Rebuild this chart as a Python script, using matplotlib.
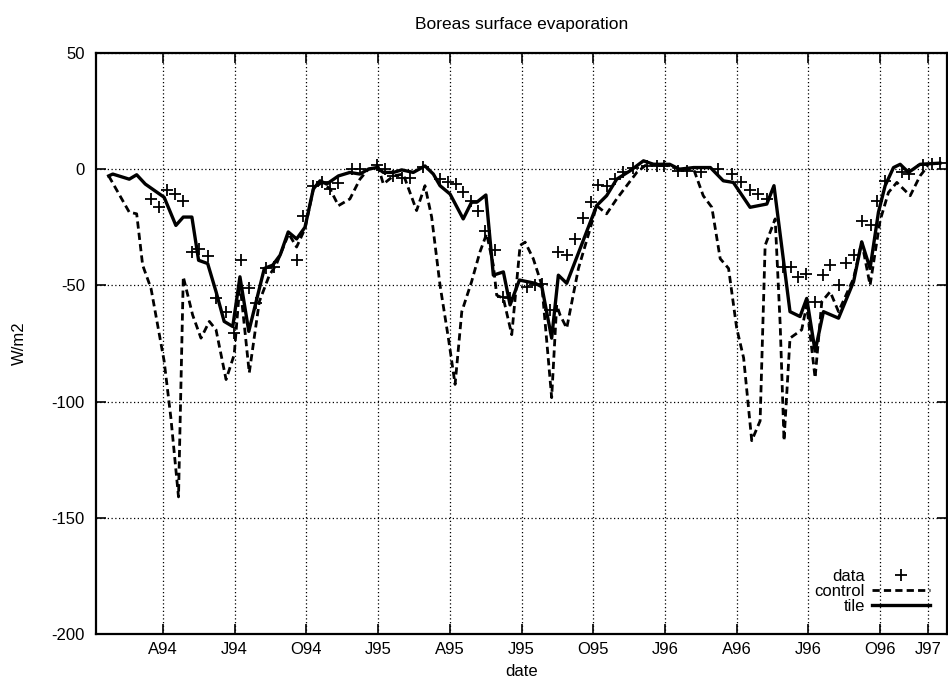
import matplotlib
matplotlib.use('Agg')
import matplotlib.pyplot as plt

plt.rcParams['font.family'] = ['Liberation Sans', 'DejaVu Sans']
plt.rcParams['axes.unicode_minus'] = False

# x in months since Jan 1994
tick_pos = [3, 6, 9, 12, 15, 18, 21, 24, 27, 30, 33, 35]
tick_labels = ['A94', 'J94', 'O94', 'J95', 'A95', 'J95', 'O95', 'J96', 'A96', 'J96', 'O96', 'J97']

data_x = [2.5, 2.82, 3.17, 3.52, 3.85, 4.21, 4.49, 4.87, 5.22, 5.64, 5.98, 6.26, 6.61, 6.89, 7.31, 7.66,
          8.59, 8.87, 9.29, 9.64, 9.99, 10.34, 10.89, 11.24, 11.94, 12.29, 12.64, 12.99, 13.33, 13.89,
          14.59, 14.94, 15.26, 15.54, 15.87, 16.19, 16.47, 16.89, 17.24, 17.52, 18.22, 18.57, 18.85,
          19.19, 19.54, 19.89, 20.24, 20.59, 20.89, 21.21, 21.56, 21.91, 22.26, 22.68, 23.24, 23.66,
          23.94, 24.55, 24.91, 25.5, 26.2, 26.8, 27.2, 27.56, 27.9, 28.26, 28.95, 29.26, 29.58, 29.9,
          30.28, 30.6, 30.91, 31.26, 31.58, 31.89, 32.23, 32.61, 32.86, 33.21, 33.91, 34.19, 34.81,
          35.16, 35.5]
data_y = [-12.8, -16.4, -8.8, -10.7, -13.5, -35.6, -34.2, -37.3, -55.6, -61.5, -70.5, -39.2, -51.3,
          -57.7, -42.7, -42.0, -39.2, -20, -7.1, -5.7, -8.5, -6, 0, 0, 1.7, 0, -2.9, -3.6, -3.6, 1.1,
          -4.3, -5.7, -6.4, -10, -13.5, -18.2, -26.4, -34.9, -54.8, -55.6, -50.6, -49.9, -49.6,
          -60.6, -35.6, -37, -29.9, -21.1, -14, -6.8, -7.1, -4.3, -1.4, 0.7, 1.4, 1.4,
          1.4, -0.7, -0.7, -1.4, 0, -2.1, -5.4, -8.8, -10.7, -12.8, -42, -42, -46.3, -44.9,
          -57.3, -45.6, -41.3, -49.9, -40.2, -36.8, -22.1, -24.2, -13.5, -5, -1.4, -2.1, 1.7,
          2.1, 2.6]

control_x = [0.73, 1.59, 1.9, 2.15, 2.5, 3.05, 3.33, 3.65, 3.85, 4.24, 4.59, 4.94, 5.22, 5.64, 5.98,
             6.22, 6.61, 7.03, 7.45, 7.73, 8.26, 8.59, 8.94, 9.29, 9.64, 9.99, 10.34, 10.82, 11.24,
             11.59, 12.0, 12.22, 12.64, 13.05, 13.61, 13.96, 14.24, 14.59, 14.94, 15.22, 15.5, 15.91,
             16.26, 16.54, 16.82, 16.96, 17.24, 17.59, 17.94, 18.15, 18.49, 18.85, 19.26, 19.47,
             19.61, 19.89, 20.38, 20.87, 21.14, 21.56, 21.98, 22.4, 22.82, 23.24, 23.94, 24.6, 25.2,
             25.6, 25.96, 26.31, 26.66, 27.0, 27.29, 27.63, 27.98, 28.19, 28.61, 28.82, 28.98, 29.23,
             29.72, 29.93, 30.28, 30.56, 30.91, 31.26, 31.89, 32.23, 32.58, 33.0, 33.35, 33.7, 34.26,
             34.67, 35.0]
control_y = [-2.9, -18.5, -19.2, -41.3, -51.3, -82.6, -106.9, -141, -46.3, -62.7, -72.7, -65.5, -69.1,
             -90.5, -79.8, -49.1, -87.6, -57, -45.6, -41.3, -27.8, -33.5, -25.6, -8.5, -5.7, -8.5,
             -15.7, -12.8, -4.3, 0, 1.1, -6.4, -2.9, -2.1, -17.8, -7.1, -20.6, -49.9, -72.7, -92.6,
             -61.3, -48.4, -35.6, -27.8, -41.3, -54.2, -55.6, -71.2, -32.8, -31.4, -38.5, -49.9,
             -98.3, -58.4, -62.7, -68.4, -42.7, -25.6, -15.7, -19.2, -12.8, -7.1, -1.4, 2.1, 2.1, 0,
             0, -11.4, -16.4, -38.5, -42.7, -68.4, -81.2, -116.8, -108.3, -32.8, -21.4, -67, -116.8,
             -72.7, -69.1, -58.4, -89.8, -57, -52.7, -61.3, -47, -31.3, -49.9, -22.1, -10, -5.7,
             -11.4, -2.9, 1.4]

tile_x = [0.73, 0.9, 1.59, 1.9, 2.26, 3.05, 3.54, 3.85, 4.21, 4.49, 4.87, 5.22, 5.56, 5.92, 6.22, 6.59,
          7.24, 7.59, 7.9, 8.24, 8.59, 8.94, 9.29, 9.57, 9.85, 10.34, 10.82, 11.24, 11.59, 11.94,
          12.22, 12.64, 12.99, 13.47, 13.96, 14.31, 14.59, 15.01, 15.56, 15.91, 16.13, 16.51, 16.82,
          17.24, 17.52, 17.91, 18.57, 18.85, 19.26, 19.54, 19.89, 20.45, 21.14, 21.56, 21.98, 22.54,
          23.1, 23.52, 24.2, 24.6, 25.2, 25.9, 26.44, 26.86, 27.56, 28.26, 28.56, 29.23, 29.65,
          29.93, 30.28, 30.63, 31.26, 31.89, 32.23, 32.58, 32.93, 33.21, 33.56, 33.84, 34.19, 34.67,
          35.5]
tile_y = [-2.9, -2.1, -4.3, -2.4, -6.4, -12.1, -24.2, -20.6, -20.6, -39.2, -40.6, -52.7, -65.5, -67.7,
          -46.3, -69.8, -42.7, -41.3, -37, -27, -30, -25, -8.5, -5, -6.4, -2.9, -1.4, -2.1, 0, 0.7,
          -1.4, -1.4, -0.3, -1.4, 1.4, -2.1, -7.1, -10.7, -21.4, -14.2, -14.2, -11.1, -45.6, -44.2,
          -58.4, -47.7, -49.1, -50.6, -72.7, -45.6, -49.1, -34.2, -15.7, -11.4, -4.3, -0.7, 3.6, 2.1,
          2.1, 0, 0.7, 0.7, -5, -5.7, -16.4, -15, -7.1, -61.3, -63.4, -55.6, -78.3, -61.3, -64.1,
          -48.4, -31.3, -42.7, -18.5, -7.1, 0.7, 2.1, -1.4, 2.1, 2.6]

fig = plt.figure(figsize=(9.48, 6.87), dpi=100)
ax = fig.add_axes([0.1013, 0.0771, 0.8977, 0.8458])

ax.plot(data_x, data_y, linestyle='none', marker='+', color='k', markersize=9,
        markeredgewidth=1.3, label='data')
ax.plot(control_x, control_y, color='k', linewidth=2, dashes=(2.6, 1.5), label='control')
ax.plot(tile_x, tile_y, color='k', linewidth=2.4, label='tile')

ax.set_xlim(0.2, 35.8)
ax.set_ylim(-200, 50)
ax.set_xticks(tick_pos)
ax.set_xticklabels(tick_labels)
ax.set_yticks([-200, -150, -100, -50, 0, 50])
ax.grid(True, color='k', linestyle=(0, (1, 2)), linewidth=0.9)
ax.tick_params(direction='in', length=7, width=1.2, top=True, right=True, labelsize=12)
ax.tick_params(axis='y', pad=8)
ax.tick_params(axis='x', pad=6)
for s in ax.spines.values():
    s.set_linewidth(1.6)

ax.set_title('Boreas surface evaporation', fontsize=12.5, pad=17)
ax.set_xlabel('date', fontsize=12, labelpad=5)
ax.set_ylabel('W/m2', fontsize=12, labelpad=18)

leg = ax.legend(loc='lower right', bbox_to_anchor=(0.98, 0.035), markerfirst=False, frameon=False,
                fontsize=12, handlelength=3.5, handletextpad=0.4, labelspacing=0.0,
                borderpad=0, borderaxespad=0)

fig.savefig('out.png', dpi=100)
